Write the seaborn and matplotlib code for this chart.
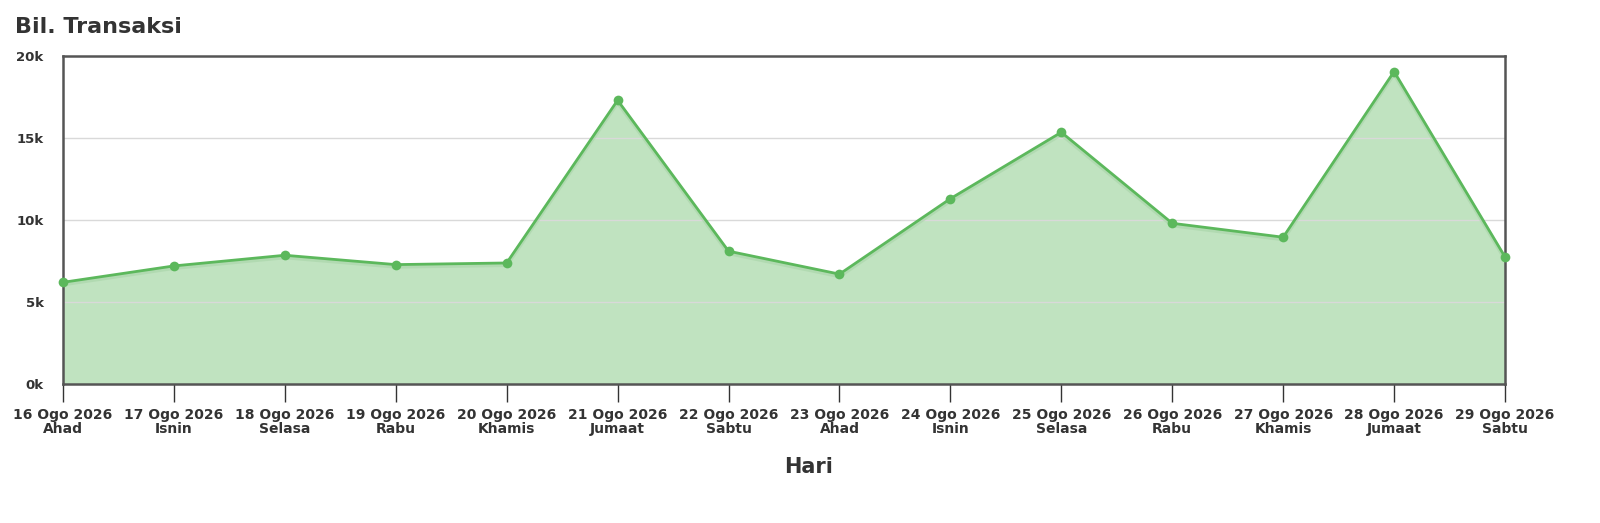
import matplotlib
matplotlib.use("Agg")
import matplotlib.pyplot as plt
import seaborn as sns
import pandas as pd
import numpy as np

dates = ["16 Ogo 2026", "17 Ogo 2026", "18 Ogo 2026", "19 Ogo 2026", "20 Ogo 2026",
         "21 Ogo 2026", "22 Ogo 2026", "23 Ogo 2026", "24 Ogo 2026", "25 Ogo 2026",
         "26 Ogo 2026", "27 Ogo 2026", "28 Ogo 2026", "29 Ogo 2026"]
days = ["Ahad", "Isnin", "Selasa", "Rabu", "Khamis", "Jumaat", "Sabtu",
        "Ahad", "Isnin", "Selasa", "Rabu", "Khamis", "Jumaat", "Sabtu"]
transactions = [6200, 7200, 7850, 7280, 7380, 17300, 8100, 6700, 11300, 15350, 9800, 8950, 19050, 7750]
y_ticks = [0, 5000, 10000, 15000, 20000]
y_tick_labels = ["0k", "5k", "10k", "15k", "20k"]

df = pd.DataFrame({"idx": np.arange(len(dates)), "value": transactions})

sns.set_theme(style="white")
plt.rcParams["font.family"] = ["DejaVu Sans"]

fig = plt.figure(figsize=(16, 5.23), dpi=100)
ax = fig.add_axes([63/1600, 1-384/523, (1505-63)/1600, (384-56)/523])

line_color = "#5cb85c"
ax.fill_between(df["idx"], df["value"], 0, color="#c0e3c0", zorder=1, linewidth=0)
# subtle shadow
ax.plot(df["idx"], df["value"] - 120, color="#a8d4a8", linewidth=3, zorder=2, alpha=0.6)
sns.lineplot(data=df, x="idx", y="value", ax=ax, color=line_color, linewidth=2,
             marker="o", markersize=7, markeredgewidth=0, zorder=3, clip_on=False)

ax.set_xlim(0, len(dates) - 1)
ax.set_ylim(0, 20000)
ax.set_yticks(y_ticks)
ax.set_yticklabels(y_tick_labels)
ax.set_xticks(df["idx"])
ax.set_xticklabels([f"{d}\n{w}" for d, w in zip(dates, days)], linespacing=1.05)

for lab in ax.get_xticklabels() + ax.get_yticklabels():
    lab.set_fontweight("bold")
    lab.set_color("#333333")
for lab in ax.get_xticklabels():
    lab.set_fontsize(10)
for lab in ax.get_yticklabels():
    lab.set_fontsize(9.5)

ax.tick_params(axis="x", length=13, width=1, color="#333333", pad=4, bottom=True)
ax.tick_params(axis="y", length=0, pad=14)

for g in [5000, 10000, 15000]:
    ax.axhline(g, color="#d9d9d9", linewidth=1, zorder=1.5)

for sp in ax.spines.values():
    sp.set_color("#555555")
    sp.set_linewidth(1.8)
    sp.set_visible(True)

ax.set_xlabel("")
ax.set_ylabel("")
fig.text(809/1600, 1-467/523, "Hari", fontsize=15, fontweight="bold",
         color="#333333", ha="center", va="center")
fig.text(15/1600, 1-27/523, "Bil. Transaksi", fontsize=16, fontweight="bold",
         color="#333333", ha="left", va="center")

fig.savefig("out.png", dpi=100, facecolor="white")
